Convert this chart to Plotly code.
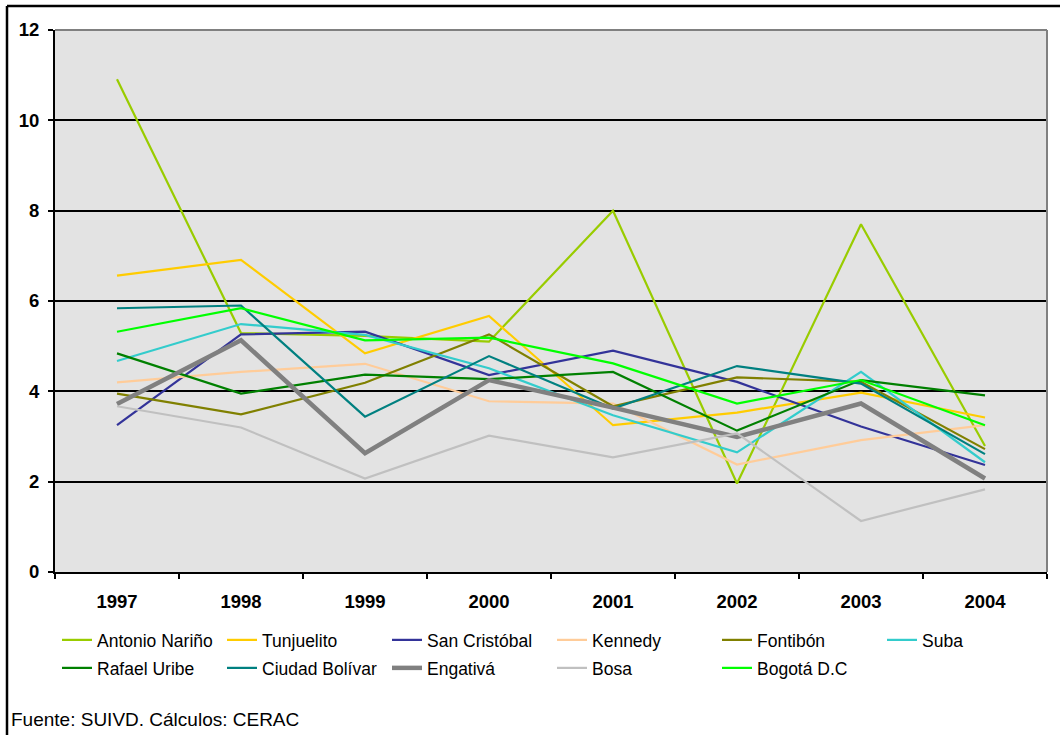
import plotly.graph_objects as go

years = ["1997", "1998", "1999", "2000", "2001", "2002", "2003", "2004"]

antonio_narino = [10.91, 5.29, 5.23, 5.10, 8.00, 1.96, 7.70, 2.79]
tunjuelito = [6.56, 6.91, 4.84, 5.67, 3.25, 3.53, 3.97, 3.42]
san_cristobal = [3.25, 5.26, 5.32, 4.36, 4.90, 4.21, 3.22, 2.37]
kennedy = [4.20, 4.43, 4.61, 3.78, 3.73, 2.38, 2.92, 3.25]
fontibon = [3.95, 3.49, 4.19, 5.26, 3.67, 4.31, 4.21, 2.72]
suba = [4.67, 5.49, 5.25, 4.51, 3.47, 2.65, 4.43, 2.43]
rafael_uribe = [4.84, 3.95, 4.37, 4.27, 4.43, 3.13, 4.25, 3.91]
ciudad_bolivar = [5.84, 5.90, 3.44, 4.78, 3.62, 4.56, 4.17, 2.61]
engativa = [3.72, 5.13, 2.63, 4.25, 3.64, 2.99, 3.73, 2.07]
bosa = [3.67, 3.20, 2.07, 3.02, 2.54, 3.07, 1.13, 1.83]
bogota = [5.32, 5.84, 5.13, 5.19, 4.62, 3.73, 4.25, 3.25]

series_names = ["Antonio Nariño", "Tunjuelito", "San Cristóbal", "Kennedy", "Fontibón", "Suba",
                "Rafael Uribe", "Ciudad Bolívar", "Engativá", "Bosa", "Bogotá D.C"]
series_values = [antonio_narino, tunjuelito, san_cristobal, kennedy, fontibon, suba,
                 rafael_uribe, ciudad_bolivar, engativa, bosa, bogota]

y_ticks = [0, 2, 4, 6, 8, 10, 12]

colors = ["#99CC00", "#FFCC00", "#333399", "#FFCC99", "#808000", "#33CCCC",
          "#008000", "#008080", "#808080", "#C0C0C0", "#00FF00"]
widths = [2.2, 2.2, 2.2, 2.2, 2.2, 2.2, 2.2, 2.2, 4.5, 2.2, 2.2]
legend_ids = ["legend"] * 6 + ["legend2"] * 5

FONT = "Arial, 'Liberation Sans', sans-serif"

fig = go.Figure()
for name, vals, c, w, lg in zip(series_names, series_values, colors, widths, legend_ids):
    fig.add_trace(go.Scatter(x=years, y=vals, mode="lines", name=name,
                             line=dict(color=c, width=w), legend=lg))

W, H = 1060, 735
ml, mr, mt, mb = 55, 13, 30, 163
ph = H - mt - mb
pw = W - ml - mr


def py(p):
    return (H - mb - p) / ph


def px(p):
    return (p - ml) / pw


leg_font = dict(family=FONT, size=17.5, color="black")
tick_font = dict(family=FONT, size=18.5, color="black", weight="bold")

fig.update_layout(
    width=W, height=H,
    margin=dict(l=ml, r=mr, t=mt, b=mb),
    paper_bgcolor="white",
    plot_bgcolor="#E3E3E3",
    font=dict(family=FONT, color="black"),
    legend=dict(orientation="h", x=px(57), y=py(622), xanchor="left", yanchor="top",
                font=leg_font, bgcolor="rgba(0,0,0,0)", itemwidth=30, traceorder="normal",
                entrywidth=120, entrywidthmode="pixels"),
    legend2=dict(orientation="h", x=px(57), y=py(650), xanchor="left", yanchor="top",
                 font=leg_font, bgcolor="rgba(0,0,0,0)", itemwidth=30, traceorder="normal",
                 entrywidth=120, entrywidthmode="pixels"),
    xaxis=dict(type="category", range=[-0.5, 7.5], showgrid=False, showline=True,
               linecolor="black", linewidth=2, ticks="outside", tickson="boundaries",
               ticklen=5, tickcolor="black", tickwidth=2,
               tickfont=tick_font, ticklabelstandoff=12),
    yaxis=dict(range=[0, 12], tickvals=y_ticks, showgrid=True, gridcolor="black", gridwidth=2,
               zeroline=False, showline=True, linecolor="black", linewidth=2,
               ticks="outside", ticklen=5, tickcolor="black", tickwidth=2,
               tickfont=tick_font, ticklabelstandoff=5),
    showlegend=True,
)

# plot area border (top/right) and outer chart border (top/left)
fig.add_shape(type="line", xref="paper", yref="paper", x0=0, x1=1, y0=1, y1=1,
              line=dict(color="#808080", width=2))
fig.add_shape(type="line", xref="paper", yref="paper", x0=1, x1=1, y0=0, y1=1,
              line=dict(color="#808080", width=2))
fig.add_shape(type="line", xref="paper", yref="paper", x0=px(7), x1=px(W + 5), y0=py(6), y1=py(6),
              line=dict(color="black", width=2.5))
fig.add_shape(type="line", xref="paper", yref="paper", x0=px(7), x1=px(7), y0=py(6), y1=py(H + 5),
              line=dict(color="black", width=2.5))

fig.add_annotation(text="Fuente: SUIVD. Cálculos: CERAC", xref="paper", yref="paper",
                   x=px(9), y=py(719), xanchor="left", yanchor="middle", showarrow=False,
                   font=dict(family=FONT, size=19, color="black"))

fig.write_html("out.html", config={"displayModeBar": False},
               post_script="document.body.style.margin='0';document.body.style.overflow='hidden';")
